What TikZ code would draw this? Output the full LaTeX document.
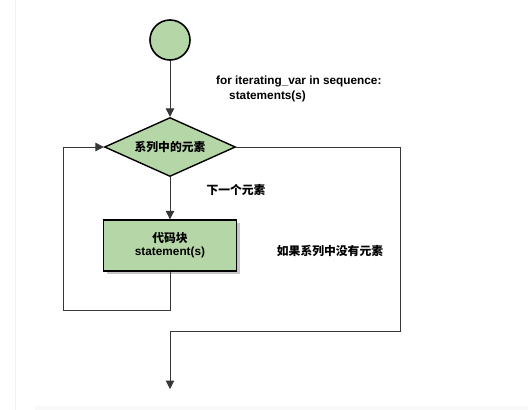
\documentclass[tikz,border=0pt]{standalone}
\usepackage{fontspec}
\setmainfont{Liberation Sans}
\newfontfamily\cjk{Noto Sans CJK SC}
\usetikzlibrary{shapes.geometric,shadows,arrows.meta}

\definecolor{flowgreen}{RGB}{181,214,167}
\definecolor{lineclr}{RGB}{55,55,55}

\tikzset{
 flow/.style={font=\bfseries\fontsize{11.8}{14}\selectfont},
 startstop/.style={circle, draw=black, line width=1.6pt, fill=flowgreen, minimum size=40pt, inner sep=0pt},
 decision/.style={diamond, draw=black, line width=1.4pt, fill=flowgreen, shape aspect=2.2, inner sep=3pt, minimum width=131pt, minimum height=59pt},
 block/.style={rectangle, draw=black, line width=1.4pt, fill=flowgreen, minimum width=133pt, minimum height=51pt, align=center,
   drop shadow={shadow xshift=3pt, shadow yshift=-3pt, fill=gray!45, opacity=1}},
 link/.style={draw=lineclr, line width=1pt},
 arrow/.style={link, -{Triangle[length=8.5pt,width=8.5pt]}}
}

\begin{document}
\begin{tikzpicture}[x=1pt, y=-1pt, flow]

% frame
\fill [white] (0,0) rectangle (528,410);
\useasboundingbox (0,0) rectangle (528,410);
\fill [gray!5] (35,406) rectangle (528,410);
\draw [gray!10, line width=0.8pt] (15,0) -- (15,410);

% nodes
\node [startstop] (start) at (170,40) {};
\node [decision] (cond) at (170,147) {\cjk 系列中的元素};
\node [block] (body) at (170,245.5) {{\cjk 代码块}\\[-1pt]statement(s)};

\node [anchor=west, inner sep=0pt] (code1) at (216,81) {for iterating\_var in sequence:};
\node [anchor=west, inner sep=0pt] (code2) at (229,96) {statements(s)};
\node [inner sep=0pt] (next) at (236,190) {\cjk 下一个元素};
\node [inner sep=0pt] (empty) at (330,251) {\cjk 如果系列中没有元素};

\coordinate (loopL) at (63,310);
\coordinate (exitR) at (400,331);
\coordinate (finish) at (170,389);

% connectors
\draw [arrow] (start) -- (cond);
\draw [arrow] (cond) -- (body);
\draw [arrow] (body.south) |- (loopL) |- (cond.west);
\draw [arrow] (cond.east) -| (exitR) -| (finish);

\end{tikzpicture}
\end{document}
